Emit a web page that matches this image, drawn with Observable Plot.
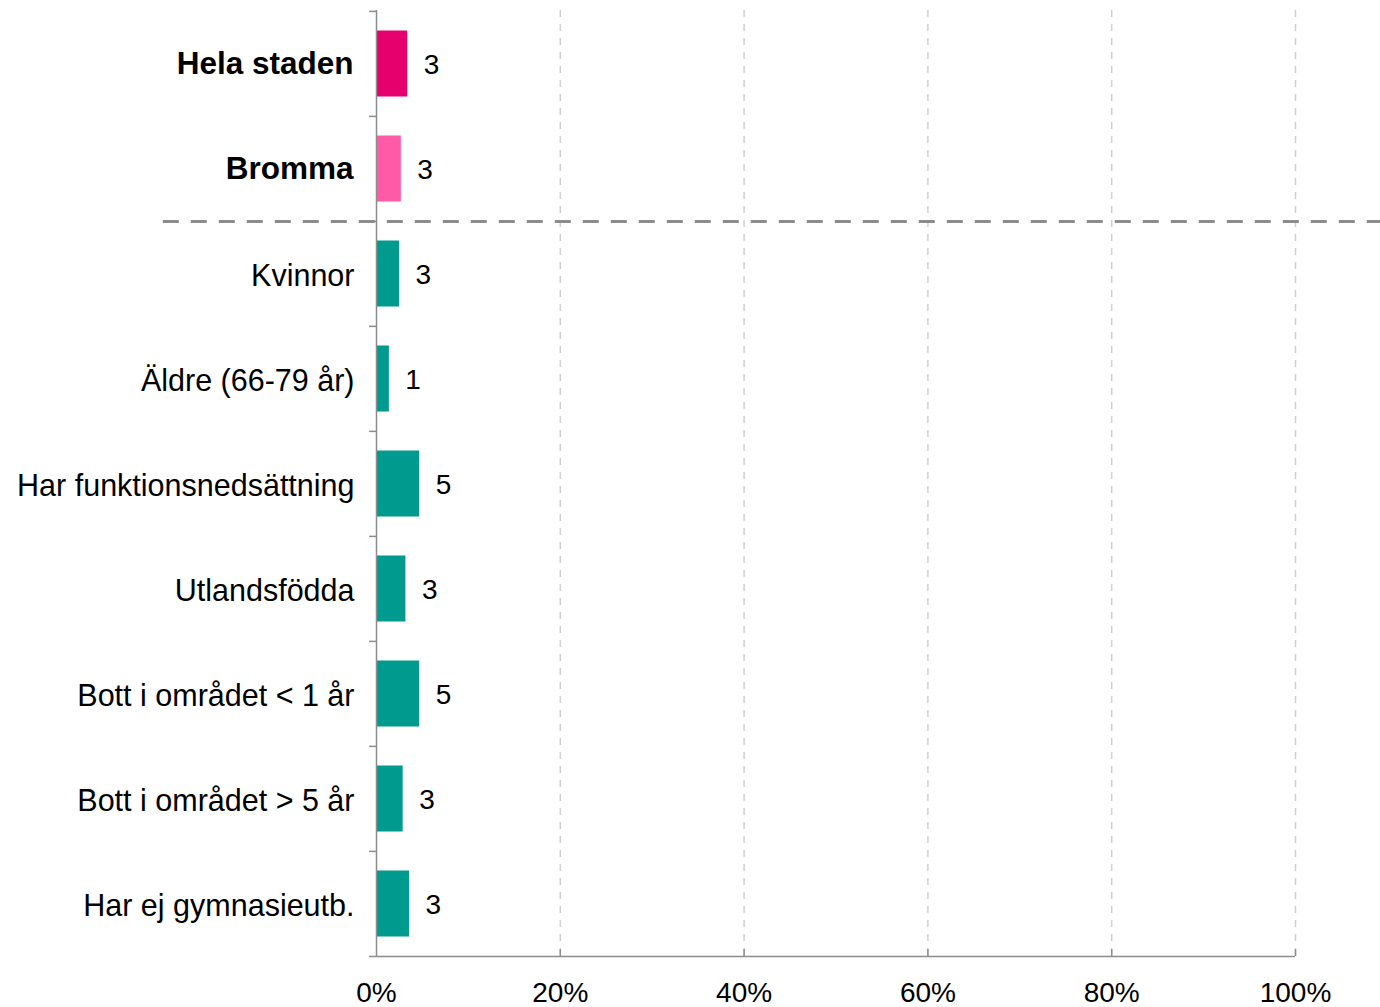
<!DOCTYPE html>
<html><head><meta charset="utf-8">
<script src="https://cdn.jsdelivr.net/npm/d3@7"></script>
<script src="https://cdn.jsdelivr.net/npm/@observablehq/plot@0.6"></script>
<style>body{margin:0;background:#fff} svg{display:block}</style>
</head><body><div id="chart"></div>
<script>
const categories = ["Hela staden","Bromma","Kvinnor","Äldre (66-79 år)","Har funktionsnedsättning","Utlandsfödda","Bott i området < 1 år","Bott i området > 5 år","Har ej gymnasieutb."];
const values = [3.4, 2.7, 2.5, 1.4, 4.7, 3.2, 4.7, 2.9, 3.6];
const valueLabels = ["3","3","3","1","5","3","5","3","3"];
const groups = ["stad","omrade","grupp","grupp","grupp","grupp","grupp","grupp","grupp"];
const boldCategories = ["Hela staden","Bromma"];
const xTicks = [0,20,40,60,80,100];
const gridTicks = [20,40,60,80,100];

const data = categories.map((c,i)=>({cat:c, value:values[i], label:valueLabels[i], group:groups[i]}));

const W = 1380, H = 1007, mT = 10, mB = 50, mL = 376, mR = 85;
const step = (H - mT - mB) / categories.length;
const last = categories[categories.length-1];
const axisColor = "#8c8c8c";
const font = "Liberation Sans, Arial, sans-serif";

const chart = Plot.plot({
  width: W, height: H,
  marginTop: mT, marginBottom: mB, marginLeft: mL, marginRight: mR,
  style: {fontFamily: font, background: "#fff"},
  x: {domain: [0,100], axis: null},
  y: {type: "band", domain: categories, padding: 0, axis: null},
  color: {domain: ["stad","omrade","grupp"], range: ["#e5006d","#ff5aa8","#009a8f"]},
  marks: [
    Plot.ruleX(gridTicks, {x: d=>d, stroke: "#cfcfcf", strokeWidth: 1.5, strokeDasharray: "7,7"}),
    Plot.barX(data, {x: "value", y: "cat", fill: "group", insetTop: 19.5, insetBottom: 19.5}),
    Plot.ruleX([0], {stroke: axisColor, strokeWidth: 1.5}),
    Plot.ruleY(categories, {y: d=>d, dy: -step/2, x1: -0.75, x2: 0, stroke: axisColor, strokeWidth: 1.5}),
    Plot.ruleY([last], {y: d=>d, dy: step/2, x1: -0.75, x2: 100, stroke: axisColor, strokeWidth: 1.5}),
    Plot.tickX(gridTicks, {x: d=>d, y: ()=>last, insetTop: step-7, stroke: axisColor, strokeWidth: 1.5}),
    Plot.ruleY([boldCategories[1]], {y: d=>d, dy: step/2, x1: -23.2, x2: 109.3, stroke: axisColor, strokeWidth: 3, strokeDasharray: "16,12"}),
    Plot.text(data, {x: "value", y: "cat", text: "label", dx: 16, dy: 1, textAnchor: "start", fontSize: 28, fill: "#000"}),
    Plot.text(data.filter(d=>boldCategories.includes(d.cat)), {x: 0, y: "cat", text: "cat", dx: -23, dy: 0, textAnchor: "end", fontSize: 31.5, fontWeight: "bold", fill: "#000"}),
    Plot.text(data.filter(d=>!boldCategories.includes(d.cat)), {x: 0, y: "cat", text: "cat", dx: -22, dy: 2, textAnchor: "end", fontSize: 30.5, fill: "#000"}),
    Plot.text(xTicks, {x: d=>d, y: ()=>last, dy: step/2 + 36, text: d=>d+"%", fontSize: 28, fill: "#000"})
  ]
});
document.getElementById("chart").appendChild(chart);
</script>
</body></html>
